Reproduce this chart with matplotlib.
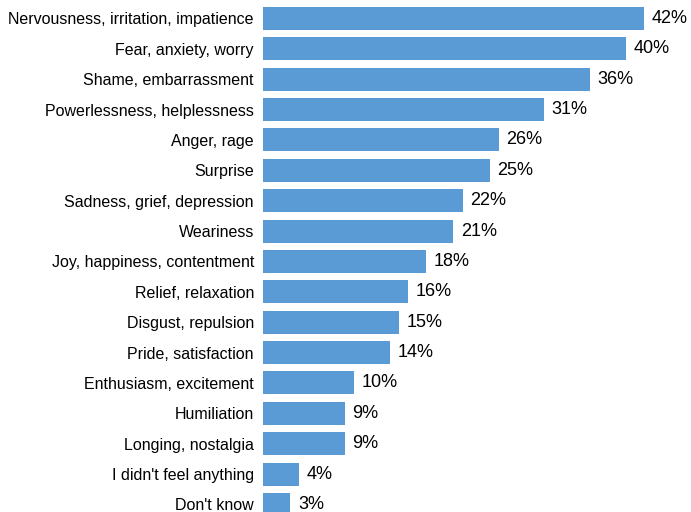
import matplotlib
matplotlib.use("Agg")
from matplotlib import pyplot as plt

plt.rcParams["font.family"] = ["Liberation Sans", "DejaVu Sans"]

# emotions and share of respondents (%)
categories = [
    "Nervousness, irritation, impatience",
    "Fear, anxiety, worry",
    "Shame, embarrassment",
    "Powerlessness, helplessness",
    "Anger, rage",
    "Surprise",
    "Sadness, grief, depression",
    "Weariness",
    "Joy, happiness, contentment",
    "Relief, relaxation",
    "Disgust, repulsion",
    "Pride, satisfaction",
    "Enthusiasm, excitement",
    "Humiliation",
    "Longing, nostalgia",
    "I didn't feel anything",
    "Don't know",
]
values = [42, 40, 36, 31, 26, 25, 22, 21, 18, 16, 15, 14, 10, 9, 9, 4, 3]

W, H = 691, 512
fig = plt.figure(figsize=(W / 100, H / 100), dpi=100)
ax = fig.add_axes([263 / W, 0, 428 / W, 1])

pos = list(range(len(categories)))
ax.barh(pos, values, height=0.757, color="#5B9BD5")

for p, v in zip(pos, values):
    ax.annotate(f"{v}%", (v, p), xytext=(5.5, 0), textcoords="offset points",
                va="center", ha="left", fontsize=13, color="black")

ax.set_yticks(pos)
ax.set_yticklabels(categories, fontsize=11.55, color="black")
ax.tick_params(axis="y", length=0, pad=6.5)
ax.set_xticks([])
ax.set_xlim(0, 428 / 9.07)
ax.set_ylim(16.25, -0.609)
for s in ax.spines.values():
    s.set_visible(False)

plt.savefig("out.png", dpi=100)
plt.close()
